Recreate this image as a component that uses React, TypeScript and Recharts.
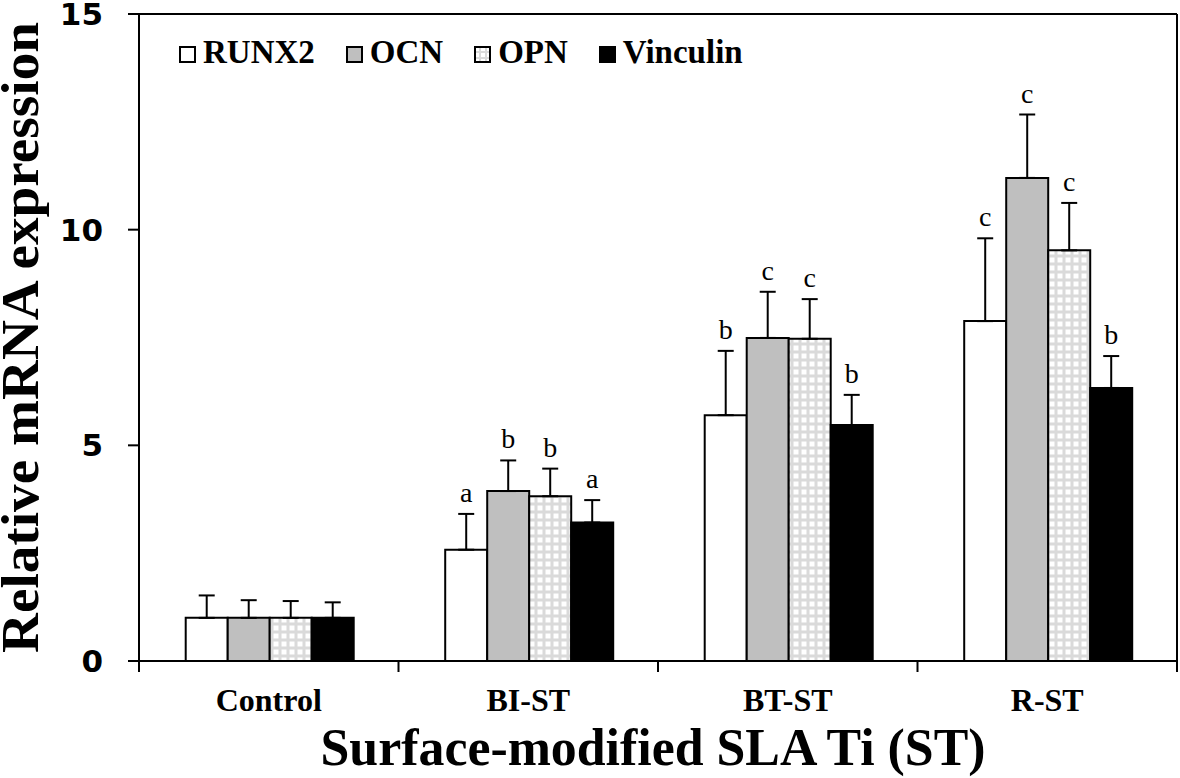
import React from 'react';
import { BarChart, Bar, XAxis, YAxis, ErrorBar, LabelList, ReferenceLine } from 'recharts';

const groups = ['Control', 'BI-ST', 'BT-ST', 'R-ST'];

const runx2 = [1.0, 2.58, 5.7, 7.88];
const runx2Err = [0.52, 0.83, 1.49, 1.92];
const runx2Sig = ['', 'a', 'b', 'c'];

const ocn = [1.0, 3.94, 7.49, 11.2];
const ocnErr = [0.41, 0.71, 1.07, 1.47];
const ocnSig = ['', 'b', 'c', 'c'];

const opn = [1.0, 3.82, 7.47, 9.52];
const opnErr = [0.39, 0.64, 0.92, 1.1];
const opnSig = ['', 'b', 'c', 'c'];

const vinculin = [1.0, 3.21, 5.47, 6.33];
const vinculinErr = [0.36, 0.52, 0.7, 0.74];
const vinculinSig = ['', 'a', 'b', 'b'];

const yTicks = [0, 5, 10, 15];

const SERIF = '"Liberation Serif", "Times New Roman", serif';
const SANS = '"DejaVu Sans", Verdana, sans-serif';

const series = [
  { key: 'RUNX2', values: runx2, errs: runx2Err, sig: runx2Sig, fill: '#ffffff' },
  { key: 'OCN', values: ocn, errs: ocnErr, sig: ocnSig, fill: '#bfbfbf' },
  { key: 'OPN', values: opn, errs: opnErr, sig: opnSig, fill: 'url(#opnDots)' },
  { key: 'Vinculin', values: vinculin, errs: vinculinErr, sig: vinculinSig, fill: '#000000' },
];

const rows = groups.map((g, i) => {
  const row: any = { group: g };
  series.forEach((s) => {
    row[s.key] = s.values[i];
    row[s.key + '_err'] = [0, s.errs[i]];
    row[s.key + '_sig'] = s.sig[i];
  });
  return row;
});

// letter placed above the error bar cap, using the bar's own pixel scale
const makeSig = (values: number[], errs: number[]) => (props: any) => {
  const { index, value } = props;
  const vb = props.viewBox || props;
  const x = vb.x ?? props.x;
  const y = vb.y ?? props.y;
  const w = vb.width ?? props.width;
  const h = vb.height ?? props.height;
  if (!value || !values[index]) return null;
  const perUnit = Math.abs(h) / values[index];
  const top = y - errs[index] * perUnit;
  return (
    <text x={x + w / 2} y={top - 12} textAnchor="middle" fontFamily={SERIF} fontSize={28} fill="#000">
      {value}
    </text>
  );
};

// category label plus the short tick marks at the group boundaries
const GroupTick = (props: any) => {
  const { x, y, payload, width, visibleTicksCount, index } = props;
  const half = payload.offset || (width && visibleTicksCount ? width / visibleTicksCount / 2 : 0);
  const last = index === (visibleTicksCount ?? groups.length) - 1;
  return (
    <g>
      <line x1={x - half} x2={x - half} y1={y} y2={y + 11} stroke="#000" strokeWidth={2} />
      {last && <line x1={x + half} x2={x + half} y1={y} y2={y + 11} stroke="#000" strokeWidth={2} />}
      <text x={x} y={y + 50} textAnchor="middle" fontFamily={SERIF} fontWeight={700} fontSize={32} fill="#000">
        {payload.value}
      </text>
    </g>
  );
};

const XTitle = (props: any) => {
  const vb = props.viewBox;
  return (
    <text x={vb.x + vb.width / 2 - 5} y={vb.y + 104} textAnchor="middle" fontFamily={SERIF} fontWeight={700}
      fontSize={52} fill="#000" textLength={665} lengthAdjust="spacingAndGlyphs">
      Surface-modified SLA Ti (ST)
    </text>
  );
};

const YTitle = (props: any) => {
  const vb = props.viewBox;
  const cx = vb.x + 38;
  const cy = vb.y + vb.height / 2;
  return (
    <text x={cx} y={cy} transform={`rotate(-90, ${cx}, ${cy})`} textAnchor="middle" fontFamily={SERIF}
      fontWeight={700} fontSize={53} fill="#000" textLength={631} lengthAdjust="spacingAndGlyphs">
      Relative mRNA expression
    </text>
  );
};

const LegendBox = ({ fill }: { fill: string }) => (
  <svg width={17} height={17} style={{ marginRight: 7, marginTop: 3 }}>
    <defs>
      <pattern id="opnDotsLegend" width="6" height="6" patternUnits="userSpaceOnUse">
        <rect width="6" height="6" fill="#dadada" />
        <rect x="1" y="1" width="4" height="4" fill="#fff" />
      </pattern>
    </defs>
    <rect x={1} y={1} width={15} height={15} fill={fill === 'url(#opnDots)' ? 'url(#opnDotsLegend)' : fill}
      stroke="#000" strokeWidth={2} />
  </svg>
);

export default function App() {
  return (
    <div style={{ position: 'absolute', left: 0, top: 0, width: 1180, height: 778, background: '#fff' }}>
      <BarChart width={1180} height={778} data={rows} margin={{ top: 14, right: 0, left: 0, bottom: 0 }}
        barCategoryGap="18%" barGap={0}>
        <defs>
          <pattern id="opnDots" width="8" height="8" patternUnits="userSpaceOnUse">
            <rect width="8" height="8" fill="#dadada" />
            <rect x="1.5" y="1.5" width="5" height="5" fill="#fff" />
          </pattern>
        </defs>
        <XAxis dataKey="group" height={117} interval={0} axisLine={{ stroke: '#000', strokeWidth: 2 }}
          tickLine={false} tickSize={0} tickMargin={0} tick={<GroupTick />} label={<XTitle />} />
        <YAxis width={139} domain={[0, 15]} ticks={yTicks} interval={0} tickSize={11} tickMargin={25}
          axisLine={{ stroke: '#000', strokeWidth: 2 }} tickLine={{ stroke: '#000', strokeWidth: 2 }}
          tick={{ fontFamily: SANS, fontWeight: 700, fontSize: 31, fill: '#000' }} label={<YTitle />} />
        <YAxis yAxisId="frame" orientation="right" width={3} domain={[0, 15]} ticks={yTicks} tick={false}
          tickLine={false} axisLine={{ stroke: '#000', strokeWidth: 2 }} />
        <ReferenceLine y={15} stroke="#000" strokeWidth={2} />
        {series.map((s) => (
          <Bar key={s.key} dataKey={s.key} fill={s.fill} stroke="#000" strokeWidth={2}
            isAnimationActive={false}>
            <ErrorBar dataKey={s.key + '_err'} direction="y" width={8} stroke="#000" strokeWidth={2} />
            <LabelList dataKey={s.key + '_sig'} content={makeSig(s.values, s.errs)} />
          </Bar>
        ))}
      </BarChart>
      <div style={{ position: 'absolute', left: 179, top: 36, display: 'flex', alignItems: 'center',
        fontFamily: SERIF, fontWeight: 700, fontSize: 33, lineHeight: '33px', color: '#000' }}>
        {series.map((s) => (
          <div key={s.key} style={{ display: 'flex', alignItems: 'center', marginRight: 31 }}>
            <LegendBox fill={s.fill} />
            <span>{s.key}</span>
          </div>
        ))}
      </div>
    </div>
  );
}
